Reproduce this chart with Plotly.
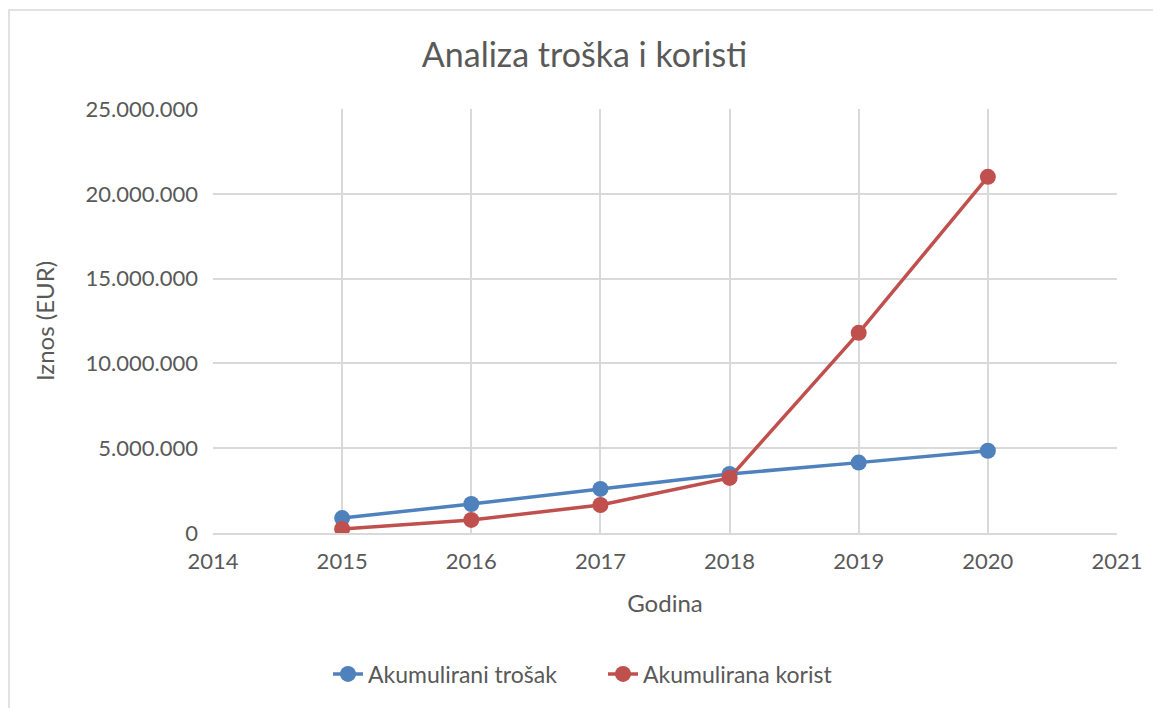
import plotly.graph_objects as go

years = [2015, 2016, 2017, 2018, 2019, 2020]
trosak = [880000, 1710000, 2600000, 3480000, 4150000, 4850000]
korist = [240000, 770000, 1650000, 3250000, 11800000, 21000000]
x_ticks = [2014, 2015, 2016, 2017, 2018, 2019, 2020, 2021]
y_ticks = [0, 5000000, 10000000, 15000000, 20000000, 25000000]

FONT = "Lato, sans-serif"
TXT = "#595959"

fig = go.Figure()
fig.add_trace(go.Scatter(x=years, y=trosak, name="Akumulirani trošak", mode="lines+markers",
                         line=dict(color="#4F81BD", width=3.5),
                         marker=dict(color="#4F81BD", size=16)))
fig.add_trace(go.Scatter(x=years, y=korist, name="Akumulirana korist", mode="lines+markers",
                         line=dict(color="#C0504D", width=3.5),
                         marker=dict(color="#C0504D", size=16)))

OFF = 8  # page body margin
W, H = 1161 - OFF, 708 - OFF
L, R = 213 - OFF, 44
T = 109 - OFF
B = H - (533 - OFF)
pw, ph = W - L - R, H - T - B

def px(xs):
    return (xs - OFF - L) / pw

def py(ys):
    return (H - B - (ys - OFF)) / ph

fig.update_layout(
    width=W, height=H,
    margin=dict(l=L, r=R, t=T, b=B),
    paper_bgcolor="white", plot_bgcolor="white",
    separators=",.",
    font=dict(family=FONT, color=TXT, size=22),
    title=dict(text="Analiza troška i koristi", x=0.5, xanchor="center",
               y=1 - (55 - OFF) / H, yanchor="middle", font=dict(size=34, color=TXT)),
    xaxis=dict(range=[2014, 2021], tickvals=x_ticks, ticktext=[str(v) for v in x_ticks],
               showgrid=True, gridcolor="#D9D9D9", gridwidth=1.5,
               showline=True, linecolor="#D9D9D9", linewidth=1.5, zeroline=False,
               ticks="", tickfont=dict(size=22, color=TXT), ticklabelstandoff=8,
               title=dict(text="Godina", font=dict(size=24, color=TXT), standoff=22)),
    yaxis=dict(range=[0, 25000000], tickvals=y_ticks, tickformat=",d",
               showgrid=True, gridcolor="#D9D9D9", gridwidth=1.5,
               showline=False, zeroline=False, ticks="", ticklabelstandoff=14,
               tickfont=dict(size=22, color=TXT),
               title=dict(text="Iznos (EUR)", font=dict(size=24, color=TXT), standoff=24)),
    legend=dict(orientation="h", x=0.5 - 62 / pw, xanchor="center", y=py(674), yanchor="middle",
                font=dict(size=23, color=TXT), tracegroupgap=0,
                entrywidth=230, entrywidthmode="pixels"),
    showlegend=True,
    shapes=[dict(type="rect", xref="paper", yref="paper",
                 x0=px(9), x1=px(1175), y0=py(730), y1=py(10),
                 line=dict(color="#D9D9D9", width=1.5), fillcolor="rgba(0,0,0,0)", layer="below")],
)

fig.write_html("out.html")
